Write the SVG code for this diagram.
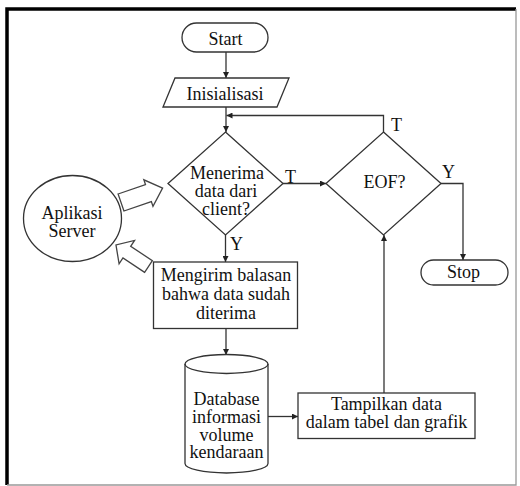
<svg xmlns="http://www.w3.org/2000/svg" width="520" height="486" viewBox="0 0 520 486">
<style>
.s{fill:#fff;stroke:#333;stroke-width:1.3}
.c{fill:none;stroke:#333;stroke-width:1.3}
.b{fill:#fff;stroke:#444;stroke-width:1.3;stroke-linejoin:miter}
text{font-family:"Liberation Serif","Times New Roman",serif;font-size:18px;fill:#111;text-anchor:middle}
.l{text-anchor:start}
</style>
<defs>
<marker id="ah" markerUnits="userSpaceOnUse" markerWidth="7" markerHeight="6" refX="6" refY="3" orient="auto">
<path d="M0,0 L6,3 L0,6 Z" fill="#222"/>
</marker>
</defs>
<rect x="0" y="0" width="520" height="486" fill="#fff"/>
<g id="frame">
<path d="M7 485 V9 H516" fill="none" stroke="#000" stroke-width="3.5"/>
<path d="M516 9 V485 H7" fill="none" stroke="#999" stroke-width="1.3"/>
</g>
<g id="connectors">
<path class="c" d="M226 52 V78" marker-end="url(#ah)"/>
<path class="c" d="M226 107 V132" marker-end="url(#ah)"/>
<path class="c" d="M383.5 132 V115.5 H226.5" marker-end="url(#ah)"/>
<path class="c" d="M283 183.5 H326" marker-end="url(#ah)"/>
<path class="c" d="M441 183.5 H463 V260" marker-end="url(#ah)"/>
<path class="c" d="M225.5 235 V262" marker-end="url(#ah)"/>
<path class="c" d="M226 328.5 V355" marker-end="url(#ah)"/>
<path class="c" d="M268 416.5 H298" marker-end="url(#ah)"/>
<path class="c" d="M384 393 V235" marker-end="url(#ah)"/>
<polygon class="b" transform="translate(121,202.5) rotate(-19)" points="0,-9 29,-9 29,-14 44,0 29,14 29,9 0,9"/>
<polygon class="b" transform="translate(148.5,266.5) rotate(-146.5)" points="0,-7 26,-7 26,-14 39,0 26,14 26,7 0,7"/>
</g>
<g id="start">
<rect class="s" x="182" y="23" width="86" height="29" rx="14.5"/>
<text x="225.5" y="45">Start</text>
</g>
<g id="inisialisasi">
<polygon class="s" points="175,78 289,78 277,107 163,107"/>
<text x="225" y="100">Inisialisasi</text>
</g>
<g id="menerima">
<polygon class="s" points="225.5,132 283,183.5 225.5,235 168,183.5"/>
<text x="227" y="179">Menerima</text>
<text x="226" y="197">data dari</text>
<text x="226" y="215">client?</text>
</g>
<text class="l" x="285" y="183">T</text>
<text class="l" x="230" y="250">Y</text>
<g id="eof">
<polygon class="s" points="383.5,132 441,183.5 383.5,235 326,183.5"/>
<text x="384.5" y="188">EOF?</text>
</g>
<text class="l" x="391" y="131">T</text>
<text class="l" x="442" y="178">Y</text>
<g id="stop">
<rect class="s" x="421" y="260" width="87" height="25" rx="12.5"/>
<text x="463.5" y="278">Stop</text>
</g>
<g id="aplikasi">
<ellipse class="s" cx="72.5" cy="218.5" rx="49" ry="43"/>
<text x="72" y="219">Aplikasi</text>
<text x="72" y="237">Server</text>
</g>
<g id="mengirim">
<rect class="s" x="153.5" y="262" width="144" height="66.5"/>
<text x="226" y="281">Mengirim balasan</text>
<text x="226" y="300">bahwa data sudah</text>
<text x="226" y="319">diterima</text>
</g>
<g id="database">
<path class="s" d="M185 364 V463.5 A41.5 9.5 0 0 0 268 463.5 V364 A41.5 9.5 0 0 0 185 364 Z"/>
<path class="c" d="M185 364 A41.5 9.5 0 0 0 268 364"/>
<text x="226.5" y="405">Database</text>
<text x="226.5" y="423">informasi</text>
<text x="226.5" y="440.5">volume</text>
<text x="226.5" y="458">kendaraan</text>
</g>
<g id="tampilkan">
<rect class="s" x="298" y="393" width="177" height="45.5"/>
<text x="386.5" y="410">Tampilkan data</text>
<text x="386.5" y="428">dalam tabel dan grafik</text>
</g>
</svg>
